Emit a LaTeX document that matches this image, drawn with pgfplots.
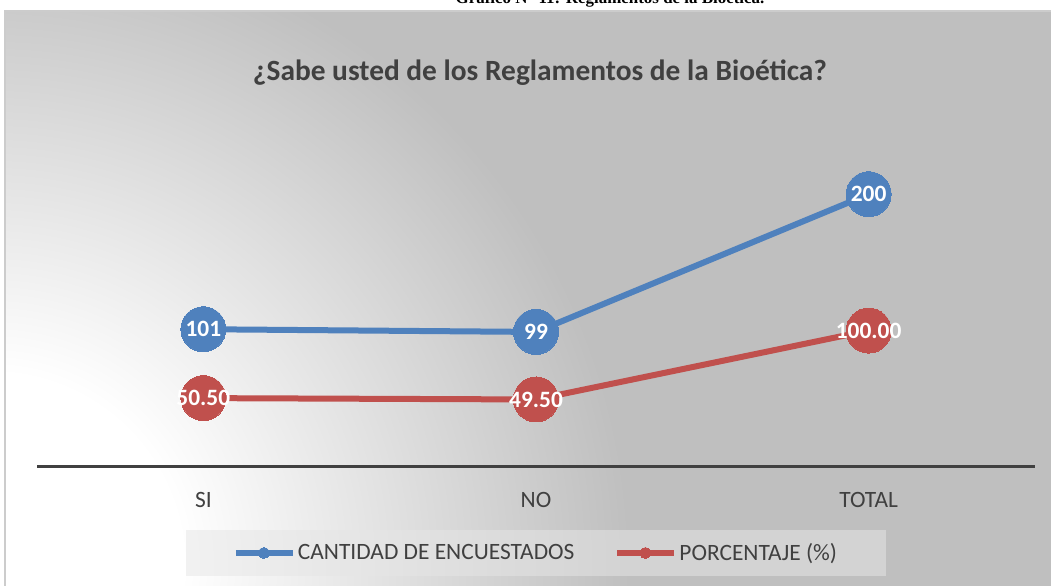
\documentclass[border=0pt]{standalone}
\usepackage{pgfplots}
\pgfplotsset{compat=1.18}
\usepackage{fontspec}
\setmainfont{Carlito}
\newfontfamily\capfont{Liberation Serif}
\definecolor{myblue}{HTML}{4F81BD}
\definecolor{myred}{HTML}{C0504D}
\definecolor{bggray}{HTML}{BFBFBF}
\definecolor{txt}{HTML}{404040}
\definecolor{legfill}{HTML}{E6E6E6}
\pgfdeclareradialshading{bgshade}{\pgfpointorigin}{color(0bp)=(white); color(6bp)=(white); color(20bp)=(bggray); color(50bp)=(bggray)}
\begin{document}
\begin{tikzpicture}[x=1bp,y=1bp]
\useasboundingbox (0,0) rectangle (1051,586);
\fill[white] (0,0) rectangle (1051,586);
\begin{scope}
\clip (0,575) rectangle (1051,586);
\node[anchor=base, inner sep=0pt, font=\capfont\bfseries\fontsize{17}{20}\selectfont] at (610,582) {Gráfico N° 11: Reglamentos de la Bioética.};
\end{scope}
\fill[bggray] (5,0) rectangle (1051,575);
\begin{scope}
\clip (5,0) rectangle (1051,575);
\shade[shading=bgshade] (-10,20) circle (800);
\end{scope}
\draw[draw=black!20, line width=1.5bp] (5,-1) -- (5,575) -- (1052,575);
\node[font=\bfseries\fontsize{29.5}{34}\selectfont, text=txt] at (540,513) {¿Sabe usted de los Reglamentos de la Bioética?};
\begin{axis}[
  at={(37bp,119bp)}, anchor=south west,
  scale only axis, width=998bp, height=341bp,
  xmin=-0.5, xmax=2.5, ymin=0, ymax=250,
  axis x line=bottom, axis y line=none,
  x axis line style={draw=txt, line width=3bp, -},
  xtick={0,1,2}, xticklabels={SI,NO,TOTAL},
  major tick length=0pt,
  xticklabel style={anchor=base, yshift=-41bp, font=\fontsize{23.5}{28}\selectfont, text=txt},
  clip=false,
  legend columns=2,
  legend style={at={(0.5,-0.252)}, anchor=center, draw=none, fill=legfill, fill opacity=0.52, text opacity=1,
    font=\fontsize{23.5}{28}\selectfont, text=txt, inner xsep=47bp, inner ysep=12bp,
    /tikz/every even column/.append style={column sep=38bp}},
  legend image code/.code={\draw[#1, fill opacity=1, mark size=5.5bp, mark repeat=2, mark phase=2] plot coordinates {(0bp,0bp) (28bp,0bp) (57bp,0bp)};},
  nodes near coords, point meta=explicit symbolic,
  every node near coord/.append style={anchor=center, text=white, font=\bfseries\fontsize{23.5}{28}\selectfont},
]
\addplot[myblue, line width=6bp, mark=*, mark size=22.5bp, mark options={fill=myblue, draw=myblue, line width=0pt}]
  coordinates {(0,101) [101] (1,99) [99] (2,200) [200]};
\addlegendentry{CANTIDAD DE ENCUESTADOS}
\addplot[myred, line width=6bp, mark=*, mark size=22.5bp, mark options={fill=myred, draw=myred, line width=0pt}]
  coordinates {(0,50.5) [50.50] (1,49.5) [49.50] (2,100) [100.00]};
\addlegendentry{PORCENTAJE (\%)}
\end{axis}
\end{tikzpicture}
\end{document}
